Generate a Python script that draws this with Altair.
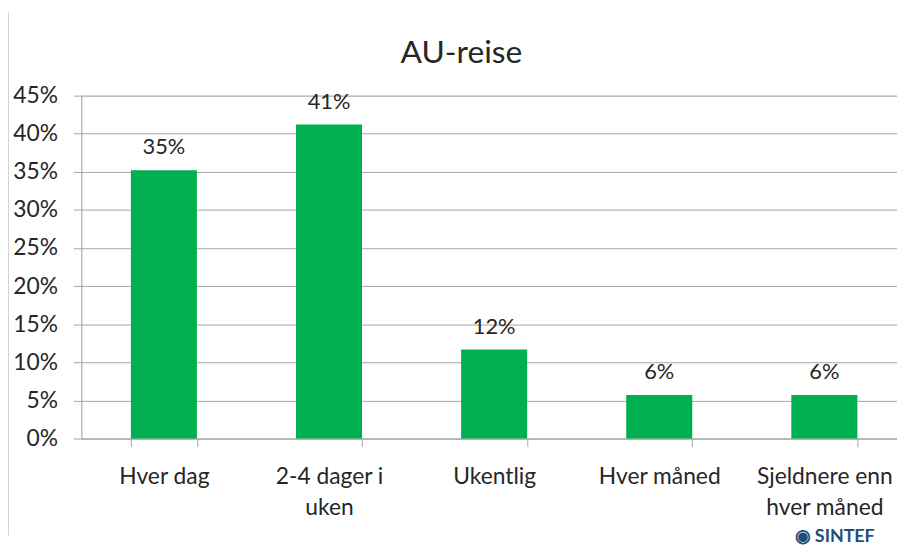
import altair as alt
import pandas as pd

categories = ["Hver dag", "2-4 dager i\nuken", "Ukentlig", "Hver måned", "Sjeldnere enn\nhver måned"]
shares = [0.352, 0.412, 0.117, 0.057, 0.057]
y_ticks = [0.0, 0.05, 0.10, 0.15, 0.20, 0.25, 0.30, 0.35, 0.40, 0.45]

df = pd.DataFrame({"kategori": categories, "andel": shares})

FONT = "Lato"
TXT = "#262626"
GRID = "#a6a6a6"
GREEN = "#00B050"

x = alt.X(
    "kategori:N",
    sort=categories,
    scale=alt.Scale(range=[0, 833], paddingInner=0.6, paddingOuter=0.3),
    axis=alt.Axis(
        title="◉ SINTEF",
        titleFont=FONT,
        titleFontSize=18,
        titleFontWeight="bold",
        titleColor="#1f4e79",
        titleAnchor="start",
        titleAlign="right",
        titleX=800,
        titleY=99,
        titleBaseline="middle",
        labelAngle=0,
        labelFont=FONT,
        labelFontSize=23,
        labelColor=TXT,
        labelLineHeight=32,
        labelPadding=19,
        labelExpr="split(datum.label, '\\n')",
        labelOverlap=False,
        tickBand="extent",
        tickSize=8,
        tickColor=GRID,
        domainColor=GRID,
        grid=False,
    ),
)

y = alt.Y(
    "andel:Q",
    scale=alt.Scale(domain=[0, 0.45], nice=False),
    axis=alt.Axis(
        title=None,
        values=y_ticks,
        tickCount=10,
        format=".0%",
        labelFont=FONT,
        labelFontSize=23,
        labelColor=TXT,
        labelPadding=16,
        labelOverlap=False,
        tickSize=8,
        tickColor=GRID,
        domainColor=GRID,
        gridColor=GRID,
        gridWidth=1,
    ),
)

bars = alt.Chart(df).mark_bar(color=GREEN).encode(x=x, y=y)

labels = alt.Chart(df).mark_text(
    font=FONT, fontSize=22, color=TXT, dy=-23, baseline="middle"
).encode(
    x=x,
    y=y,
    text=alt.Text("andel:Q", format=".0%"),
)

border = alt.Chart(df).mark_rule(color="#d0d0d0", strokeWidth=1).encode(
    x=alt.value(-74), y=alt.value(-84), y2=alt.value(444)
)

chart = (
    alt.layer(bars, labels, border)
    .properties(
        width=823,
        height=346,
        autosize=alt.AutoSizeParams(type="none"),
        padding={"left": 74, "top": 86, "right": 0, "bottom": 106},
        title=alt.Title(
            "AU-reise",
            font=FONT,
            fontSize=32,
            fontWeight="normal",
            color=TXT,
            anchor="middle",
            frame="group",
            dx=-28,
            dy=87,
            offset=28,
        ),
    )
    .configure_view(stroke=None)
    .configure(background="white")
)

chart.save("out.html", embed_options={"renderer": "svg", "actions": False})
